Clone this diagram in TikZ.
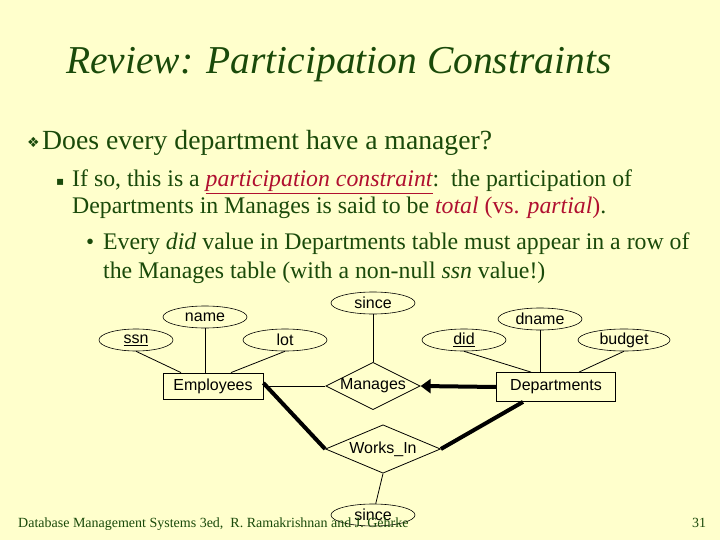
\documentclass[tikz,border=0pt]{standalone}
\usepackage{fontspec}
\setmainfont{Liberation Serif}
\newfontfamily\arial{Liberation Sans}
\newfontfamily\dvs{DejaVu Sans}
\usetikzlibrary{shapes.geometric,arrows.meta}
\definecolor{bg}{HTML}{FFFFCC}
\definecolor{tg}{HTML}{1A4A0A}
\definecolor{tr}{HTML}{B01030}
\begin{document}
\begin{tikzpicture}[x=1pt,y=-1pt,
  txt/.style={anchor=base west,inner sep=0,text=tg},
  attr/.style={ellipse,draw,semithick,minimum width=84pt,minimum height=22pt,inner sep=0,font=\arial\fontsize{16}{18}\selectfont},
  ent/.style={rectangle,draw,thick,inner sep=0,font=\arial\fontsize{16}{18}\selectfont},
  rel/.style={diamond,draw,thick,inner sep=0,aspect=2,font=\arial\fontsize{16}{18}\selectfont},
  ln/.style={thick},
  bold/.style={line width=4pt}]
\fill[bg] (0,0) rectangle (720,540);
\useasboundingbox (0,0) rectangle (720,540);
\node[txt,font=\fontsize{39.5}{42}\selectfont\itshape] (title) at (66,74) {Review: Participation Constraints};
\node[txt,font=\dvs\fontsize{14}{16}\selectfont] (b1) at (27,148) {❖};
\node[txt,font=\fontsize{27.7}{30}\selectfont] (l1) at (42,150) {Does every department have a manager?};
\node[txt,font=\dvs\fontsize{12}{14}\selectfont] (b2) at (56,186) {▪};
\node[txt,font=\fontsize{23.8}{26}\selectfont] (l2) at (72,187) {If so, this is a \textcolor{tr}{\underline{\itshape participation constraint}}:\ \ the participation of};
\node[txt,font=\fontsize{23.8}{26}\selectfont] (l3) at (72,214) {Departments in Manages is said to be \textcolor{tr}{\itshape total} \textcolor{tr}{(vs. \itshape partial\/\upshape)}.};
\node[txt,font=\fontsize{23}{26}\selectfont] (b3) at (86,249) {•};
\node[txt,font=\fontsize{23.8}{26}\selectfont] (l4) at (103,249) {Every \textit{did} value in Departments table must appear in a row of};
\node[txt,font=\fontsize{23.8}{26}\selectfont] (l5) at (103,278) {the Manages table (with a non-null \textit{ssn} value!)};
% diagram
\node[attr] (since1) at (373,303) {since};
\node[attr] (name) at (205,317) {name};
\node[attr,minimum width=74pt] (ssn) at (136,340) {\underline{ssn}};
\node[attr] (lot) at (285,340) {lot};
\node[attr] (did) at (464,340) {\underline{did}};
\node[attr] (dname) at (540,319) {dname};
\node[attr,minimum width=92pt] (budget) at (624,340) {budget};
\node[ent,minimum width=100pt,minimum height=26pt] (emp) at (213,386) {Employees};
\node[rel,minimum width=92pt,minimum height=47pt] (man) at (373,386) {Manages};
\node[ent,minimum width=119pt,minimum height=29pt] (dep) at (556,387) {Departments};
\node[rel,minimum width=115pt,minimum height=48pt] (wi) at (383,449) {Works\_In};
\node[attr] (since2) at (373,515) {since};
\draw[ln] (ssn.south) -- ([xshift=-32pt]emp.north);
\draw[ln] (name) -- (name|-emp.north);
\draw[ln] (lot.south) -- ([xshift=18pt]emp.north);
\draw[ln] (since1) -- (man.north);
\draw[ln] (did.south) -- ([xshift=-25pt]dep.north);
\draw[ln] (dname) -- (dname|-dep.north);
\draw[ln] (budget.south) -- ([xshift=23pt]dep.north);
\draw[ln] (emp.east) -- (man.west);
\draw[bold,-{Triangle[length=10pt,width=14pt]}] (dep.west) -- (man.east);
\draw[bold] ([yshift=3pt]emp.east) -- (wi.west);
\draw[bold] ([xshift=-33pt]dep.south) -- (wi.east);
\draw[ln] (wi.south) -- (since2);
\node[txt,font=\fontsize{14}{15}\selectfont] (foot) at (18,527) {Database Management Systems 3ed,\ \ R. Ramakrishnan and J. Gehrke};
\node[txt,font=\fontsize{14}{15}\selectfont] (pg) at (692,527) {31};
\end{tikzpicture}
\end{document}
